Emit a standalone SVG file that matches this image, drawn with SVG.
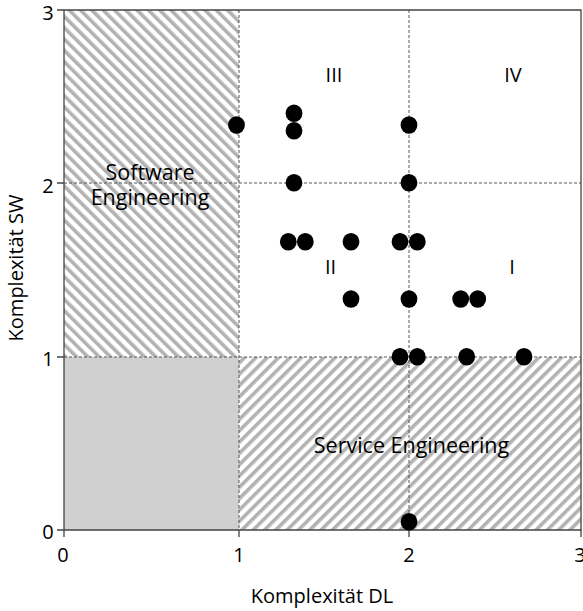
<svg xmlns="http://www.w3.org/2000/svg" width="583" height="611" viewBox="0 0 583 611">
  <style>
    text { font-family: "Open Sans", "Noto Sans", "DejaVu Sans", sans-serif; font-size: 20px; fill: #000; }
    text.area { font-size: 21.5px; }
    .grid { stroke: #555; stroke-width: 1; stroke-dasharray: 3 2; fill: none; }
    .axis { stroke: #444; stroke-width: 1.3; fill: none; }
    .dot { fill: #000; }
  </style>
  <defs>
    <!-- diagonal hatching, one per direction -->
    <pattern id="hatchBack" patternUnits="userSpaceOnUse" width="8" height="8" patternTransform="rotate(45)">
      <rect width="8" height="8" fill="#fff"/>
      <rect x="0" y="0" width="3.6" height="8" fill="#b2b2b2"/>
    </pattern>
    <pattern id="hatchFwd" patternUnits="userSpaceOnUse" width="8" height="8" patternTransform="rotate(-45)">
      <rect width="8" height="8" fill="#fff"/>
      <rect x="0" y="0" width="3.6" height="8" fill="#b2b2b2"/>
    </pattern>
  </defs>

  <rect width="583" height="611" fill="#fff"/>

  <!-- regions -->
  <g id="regions">
    <rect id="software-area" x="64" y="10" width="175" height="347" fill="url(#hatchFwd)"/>
    <rect id="service-area" x="239" y="357" width="342" height="173" fill="url(#hatchBack)"/>
    <rect id="base-area" x="64" y="357" width="175" height="173" fill="#d0d0d0"/>
  </g>

  <!-- dashed grid -->
  <g id="grid">
    <line class="grid" x1="239" y1="10" x2="239" y2="530"/>
    <line class="grid" x1="409" y1="10" x2="409" y2="530"/>
    <line class="grid" x1="64" y1="183" x2="581" y2="183"/>
    <line class="grid" x1="64" y1="357" x2="581" y2="357"/>
  </g>

  <!-- frame and ticks -->
  <g id="axes">
    <path class="axis" d="M64 10 V530 H581 V10 H64"/>
    <path class="axis" d="M57 10 H64 M57 183 H64 M57 357 H64 M57 530 H64"/>
    <path class="axis" d="M64 530 V537 M239 530 V537 M409 530 V537 M581 530 V537"/>
  </g>

  <!-- tick labels -->
  <g id="tick-labels">
    <text x="48" y="19.5" text-anchor="middle">3</text>
    <text x="48" y="192.5" text-anchor="middle">2</text>
    <text x="48" y="365.5" text-anchor="middle">1</text>
    <text x="48" y="538.5" text-anchor="middle">0</text>
    <text x="63" y="561.5" text-anchor="middle">0</text>
    <text x="239" y="561.5" text-anchor="middle">1</text>
    <text x="409" y="561.5" text-anchor="middle">2</text>
    <text x="580" y="561.5" text-anchor="middle">3</text>
  </g>

  <!-- axis titles -->
  <g id="axis-titles">
    <text x="322" y="602.5" text-anchor="middle">Komplexität DL</text>
    <text transform="translate(22.5 268) rotate(-90)" text-anchor="middle">Komplexität SW</text>
  </g>

  <!-- area and quadrant labels -->
  <g id="labels">
    <text class="area" x="150" y="179.5" text-anchor="middle">Software</text>
    <text class="area" x="150" y="205" text-anchor="middle">Engineering</text>
    <text class="area" x="411.5" y="452.5" text-anchor="middle">Service Engineering</text>
    <text x="334" y="81.5" text-anchor="middle">III</text>
    <text x="513" y="81.5" text-anchor="middle">IV</text>
    <text x="330.5" y="273.5" text-anchor="middle">II</text>
    <text x="512" y="273.5" text-anchor="middle">I</text>
  </g>

  <!-- data points -->
  <g id="points">
    <ellipse class="dot" cx="236.5" cy="125" rx="8.4" ry="8.8"/>
    <ellipse class="dot" cx="294" cy="113.3" rx="8.4" ry="8.8"/>
    <ellipse class="dot" cx="294" cy="130.7" rx="8.4" ry="8.8"/>
    <ellipse class="dot" cx="409" cy="125" rx="8.4" ry="8.8"/>
    <ellipse class="dot" cx="294" cy="182.7" rx="8.4" ry="8.8"/>
    <ellipse class="dot" cx="409" cy="182.7" rx="8.4" ry="8.8"/>
    <ellipse class="dot" cx="288.3" cy="241.7" rx="8.4" ry="8.8"/>
    <ellipse class="dot" cx="305.3" cy="241.7" rx="8.4" ry="8.8"/>
    <ellipse class="dot" cx="351" cy="241.7" rx="8.4" ry="8.8"/>
    <ellipse class="dot" cx="400" cy="241.7" rx="8.4" ry="8.8"/>
    <ellipse class="dot" cx="417.3" cy="241.7" rx="8.4" ry="8.8"/>
    <ellipse class="dot" cx="351" cy="299" rx="8.4" ry="8.8"/>
    <ellipse class="dot" cx="409" cy="299" rx="8.4" ry="8.8"/>
    <ellipse class="dot" cx="460.7" cy="299" rx="8.4" ry="8.8"/>
    <ellipse class="dot" cx="477.7" cy="299" rx="8.4" ry="8.8"/>
    <ellipse class="dot" cx="400" cy="356.7" rx="8.4" ry="8.8"/>
    <ellipse class="dot" cx="417.3" cy="356.7" rx="8.4" ry="8.8"/>
    <ellipse class="dot" cx="466.7" cy="356.7" rx="8.4" ry="8.8"/>
    <ellipse class="dot" cx="524" cy="356.7" rx="8.4" ry="8.8"/>
    <ellipse class="dot" cx="409" cy="521.7" rx="8.4" ry="8.8"/>
  </g>
</svg>
